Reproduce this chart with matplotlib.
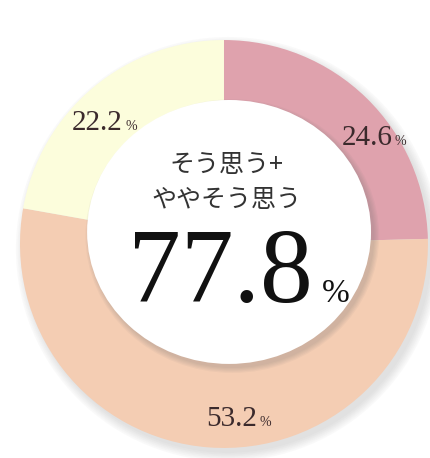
import matplotlib
matplotlib.use("Agg")
import matplotlib.pyplot as plt
from matplotlib.patches import Circle, Ellipse

# data
labels = ["そう思う", "ややそう思う", "あまりそう思わない"]
values = [24.6, 53.2, 22.2]
colors = ["#dfa2ad", "#f4cdb3", "#fcfddc"]
total_label = "77.8"
center_text = "そう思う+\nややそう思う"

fig = plt.figure(figsize=(4.31, 4.58), dpi=100)
ax = fig.add_axes([0, 0, 1, 1])

# soft shadow under the ring
for i in range(6):
    ax.add_patch(Circle((0.02, -0.025), 1.0 + 0.008 * i, color="#9a9a9a",
                        alpha=0.05, lw=0, zorder=0))

wedges, _ = ax.pie(values, colors=colors, startangle=90, counterclock=False,
                   radius=1.0, wedgeprops={"width": 0.5, "linewidth": 0})
for w in wedges:
    w.set_zorder(1)

# pie resets the limits, so set them afterwards
ax.set_xlim(-1.098, 1.015)
ax.set_ylim(-1.049, 1.196)
ax.set_aspect("equal")
ax.axis("off")

# raised white centre (sits a bit high) with its shadow on the ring
cx, cy, ew, eh = 0.025, 0.059, 1.392, 1.294
for i in range(5):
    ax.add_patch(Ellipse((cx + 0.016, cy - 0.02), ew + 0.012 * i, eh + 0.012 * i,
                         color="#707070", alpha=0.06, lw=0, zorder=2))
ax.add_patch(Ellipse((cx, cy), ew, eh, color="white", lw=0, zorder=3))

# value labels on the ring
label_pos = [(0.828, 0.485), (0.162, -0.892), (-0.495, 0.559)]
for v, (x, y) in zip(values, label_pos):
    ax.text(x, y, f"{v}", family="Liberation Serif", fontsize=21,
            color="#3b2a2c", ha="right", va="baseline", zorder=5)
    ax.text(x + 0.01, y, "%", family="Liberation Serif", fontsize=10,
            color="#3b2a2c", ha="left", va="baseline", zorder=5)

# centre text
ax.text(0.01, 0.301, center_text, family=["Noto Sans CJK JP", "DejaVu Sans"],
        fontsize=18, color="#333333", ha="center", va="center",
        linespacing=1.45, zorder=5)
ax.text(0.436, -0.284, total_label, family="Liberation Serif", fontsize=76,
        color="#111111", ha="right", va="baseline", zorder=5)
ax.text(0.48, -0.284, "%", family="Liberation Serif", fontsize=24,
        color="#111111", ha="left", va="baseline", zorder=5)

fig.savefig("out.png", dpi=100, facecolor="white")
